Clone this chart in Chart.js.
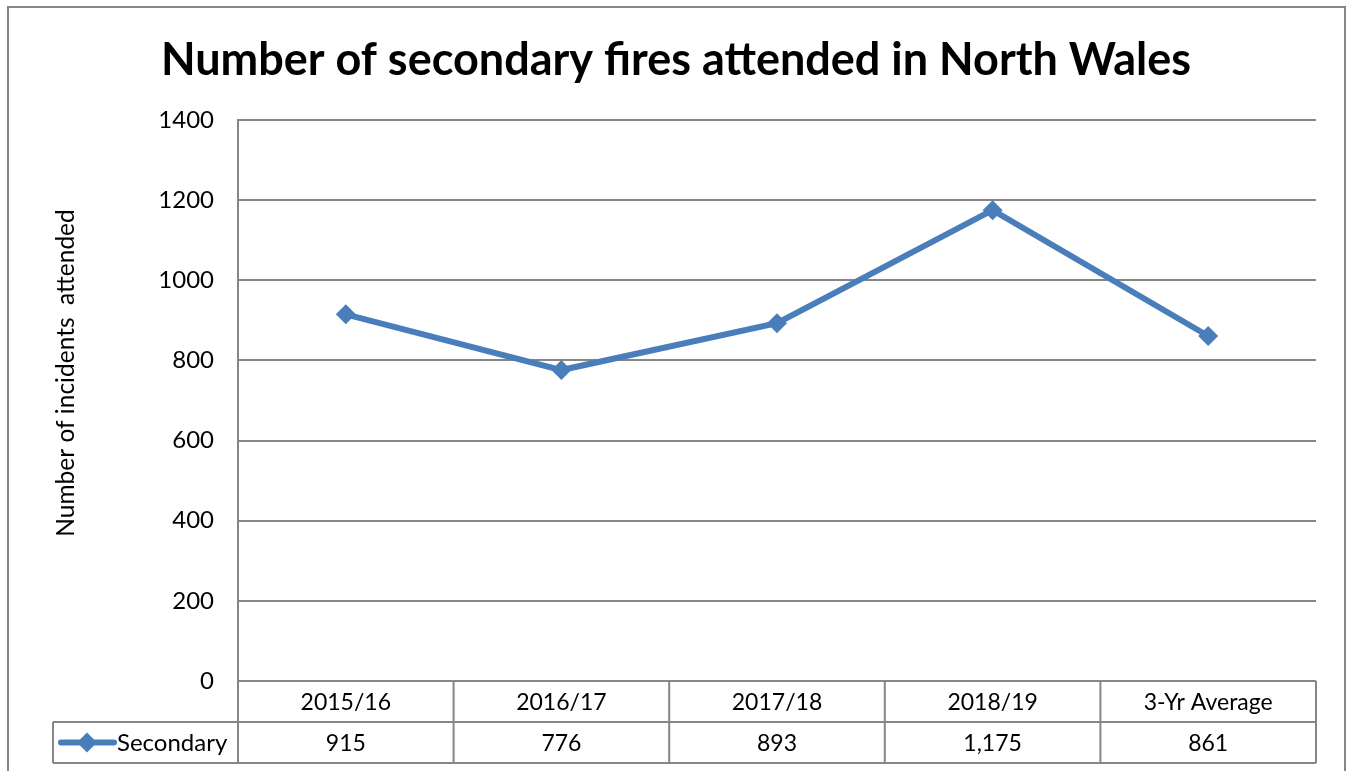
<!DOCTYPE html>
<html>
<head>
<meta charset="utf-8">
<script src="https://cdn.jsdelivr.net/npm/chart.js@4.4.1/dist/chart.umd.min.js"></script>
<style>
  body { margin: 0; background: #fff; }
  canvas { display: block; }
</style>
</head>
<body>
<canvas id="fires" width="1346" height="771"></canvas>
<script>
const categories = ['2015/16', '2016/17', '2017/18', '2018/19', '3-Yr Average'];
const secondary = [915, 776, 893, 1175, 861];
const tableValues = ['915', '776', '893', '1,175', '861'];
const seriesName = 'Secondary';

const LINE_BLUE = '#4a7ebb';
const GRID_GREY = '#868686';
const FONT = 'Lato, "Open Sans", sans-serif';

// border, y-axis title and the data table underneath the plot
const excelFrame = {
    id: 'excelFrame',
    afterDraw(chart) {
        const ctx = chart.ctx;
        const area = chart.chartArea;
        const n = categories.length;
        const colW = (area.right - area.left) / n;
        const rowH = 41;
        const top = area.bottom;
        const mid = top + rowH;
        const bottom = mid + rowH;
        const legendLeft = 53;

        ctx.save();
        ctx.strokeStyle = GRID_GREY;
        ctx.lineWidth = 2;

        // outer chart border
        ctx.strokeRect(8, 7, 1337, 780);

        // table grid
        ctx.beginPath();
        ctx.moveTo(legendLeft, mid); ctx.lineTo(area.right, mid);
        ctx.moveTo(legendLeft, bottom); ctx.lineTo(area.right, bottom);
        ctx.moveTo(legendLeft, mid); ctx.lineTo(legendLeft, bottom);
        for (let i = 0; i <= n; i++) {
            const x = area.left + i * colW;
            ctx.moveTo(x, top); ctx.lineTo(x, bottom);
        }
        ctx.stroke();

        // table text
        ctx.fillStyle = '#000';
        ctx.font = '23px ' + FONT;
        ctx.textAlign = 'center';
        ctx.textBaseline = 'middle';
        const xs = chart.scales.x;
        categories.forEach((c, i) => {
            const x = xs.getPixelForValue(i);
            ctx.fillText(c, x, top + rowH / 2 + 1);
            ctx.fillText(tableValues[i], x, mid + rowH / 2 + 1);
        });

        // legend key in the table
        const ky = mid + rowH / 2;
        ctx.strokeStyle = LINE_BLUE;
        ctx.lineWidth = 6;
        ctx.lineCap = 'round';
        ctx.beginPath();
        ctx.moveTo(61, ky); ctx.lineTo(114, ky);
        ctx.stroke();
        ctx.fillStyle = LINE_BLUE;
        ctx.beginPath();
        ctx.moveTo(87, ky - 10); ctx.lineTo(97, ky); ctx.lineTo(87, ky + 10); ctx.lineTo(77, ky);
        ctx.closePath();
        ctx.fill();
        ctx.fillStyle = '#000';
        ctx.textAlign = 'left';
        ctx.font = '24px ' + FONT;
        ctx.fillText(seriesName, 117, ky + 1);

        // y axis title
        ctx.translate(66, 373);
        ctx.rotate(-Math.PI / 2);
        ctx.textAlign = 'center';
        ctx.font = '24.5px ' + FONT;
        ctx.fillText('Number of incidents  attended', 0, 0);
        ctx.restore();
    }
};

new Chart(document.getElementById('fires'), {
    type: 'line',
    data: {
        labels: categories,
        datasets: [{
            label: seriesName,
            data: secondary,
            borderColor: LINE_BLUE,
            backgroundColor: LINE_BLUE,
            borderWidth: 6,
            pointStyle: 'rectRot',
            pointRadius: 10,
            pointHoverRadius: 10,
            pointBorderWidth: 0,
            tension: 0
        }]
    },
    options: {
        responsive: false,
        animation: false,
        layout: { padding: { left: 36, right: 30, top: 0, bottom: 90 } },
        plugins: {
            legend: { display: false },
            tooltip: { enabled: false },
            title: {
                display: true,
                text: 'Number of secondary fires attended in North Wales',
                color: '#000',
                font: { family: FONT, size: 45, weight: 'bold' },
                padding: { top: 33, bottom: 33 }
            }
        },
        scales: {
            x: {
                type: 'category',
                offset: true,
                display: false
            },
            y: {
                min: 0,
                max: 1400,
                ticks: {
                    stepSize: 200,
                    color: '#000',
                    padding: 24,
                    font: { family: FONT, size: 24 },
                    callback: v => String(v)
                },
                grid: { color: GRID_GREY, lineWidth: 2, drawTicks: false },
                border: { display: true, color: GRID_GREY, width: 2 },
                afterFit(scale) { scale.width = 202; }
            }
        }
    },
    plugins: [excelFrame]
});
</script>
</body>
</html>
